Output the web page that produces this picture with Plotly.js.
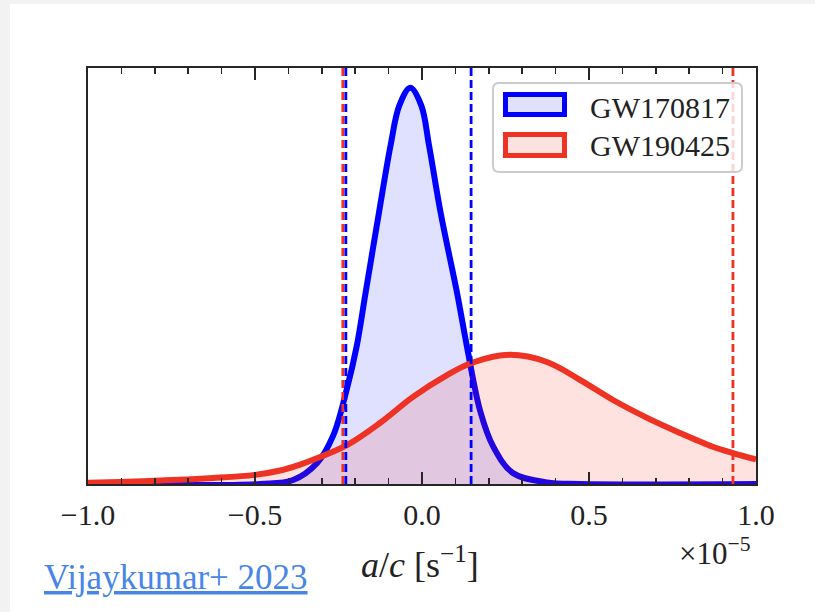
<!DOCTYPE html>
<html>
<head>
<meta charset="utf-8">
<script src="https://cdn.plot.ly/plotly-3.0.1.min.js"></script>
<style>
  html, body { margin: 0; padding: 0; background: #f2f2f2; width: 815px; height: 612px; overflow: hidden; }
  #chart { position: absolute; left: 10px; top: 4px; width: 805px; height: 608px; background: #ffffff; }
</style>
</head>
<body>
<div id="chart"></div>
<script>
// Posterior densities (normalised so GW170817 peak ~ 1), x in units of 1e-5 s^-1
const blueName = "GW170817";
const blueX = [-1.0, -0.485, -0.386, -0.314, -0.266, -0.225, -0.195, -0.169, -0.129, -0.094, -0.068, -0.035, -0.002, 0.021, 0.056, 0.105, 0.135, 0.174, 0.213, 0.272, 0.374, 0.473, 1.0];
const blueY = [0, 0, 0.010, 0.053, 0.122, 0.240, 0.350, 0.482, 0.684, 0.855, 0.955, 1.0, 0.955, 0.855, 0.684, 0.482, 0.345, 0.185, 0.095, 0.028, 0.004, 0, 0];

const redName = "GW190425";
const redX = [-1.0, -0.8, -0.626, -0.5, -0.425, -0.365, -0.326, -0.225, -0.126, -0.027, 0.075, 0.150, 0.263, 0.374, 0.473, 0.572, 0.674, 0.772, 0.871, 0.931, 1.0];
const redY = [0.003, 0.008, 0.015, 0.023, 0.034, 0.049, 0.061, 0.098, 0.154, 0.220, 0.275, 0.306, 0.326, 0.308, 0.263, 0.212, 0.167, 0.129, 0.094, 0.078, 0.062];

// 90% credible interval bounds
const blueBounds = [-0.228, 0.147];
const redBounds = [-0.237, 0.931];

const xTickVals = [-1.0, -0.5, 0.0, 0.5, 1.0];

const BLUE = "#0000ff";
const RED = "rgb(238,50,36)";
const YTOP = 1.05;

const traces = [
  { x: blueX, y: blueY, mode: "lines", fill: "tozeroy", fillcolor: "rgba(0,0,255,0.12)",
    line: { color: BLUE, width: 6, shape: "spline", smoothing: 1.0 }, name: blueName, showlegend: false, hoverinfo: "skip" },
  { x: redX, y: redY, mode: "lines", fill: "tozeroy", fillcolor: "rgba(238,50,36,0.14)",
    line: { color: RED, width: 6, shape: "spline", smoothing: 1.0 }, name: redName, showlegend: false, hoverinfo: "skip" }
];
redBounds.forEach(v => traces.push({ x: [v, v], y: [0, YTOP], mode: "lines", showlegend: false, hoverinfo: "skip",
  line: { color: RED, width: 2.8, dash: "8px,4px" } }));
blueBounds.forEach(v => traces.push({ x: [v, v], y: [0, YTOP], mode: "lines", showlegend: false, hoverinfo: "skip",
  line: { color: BLUE, width: 2.8, dash: "8px,4px" } }));

// legend box (paper coords)
const lx0 = 0.6063, lx1 = 0.9790, ly0 = 0.75, ly1 = 0.9639, rx = 0.009, ry = 0.0144;
const boxPath = `M ${lx0+rx},${ly1} L ${lx1-rx},${ly1} Q ${lx1},${ly1} ${lx1},${ly1-ry} L ${lx1},${ly0+ry} Q ${lx1},${ly0} ${lx1-rx},${ly0} L ${lx0+rx},${ly0} Q ${lx0},${ly0} ${lx0},${ly0+ry} L ${lx0},${ly1-ry} Q ${lx0},${ly1} ${lx0+rx},${ly1} Z`;

const px0 = (505.5-88)/668, px1 = (564.5-88)/668;
const shapes = [
  { type: "path", xref: "paper", yref: "paper", path: boxPath, fillcolor: "rgba(255,255,255,0.8)",
    line: { color: "rgba(204,204,204,1)", width: 2 }, layer: "above" },
  { type: "rect", xref: "paper", yref: "paper", x0: px0, x1: px1, y0: (484-114.5)/416, y1: (484-94.5)/416,
    fillcolor: "rgba(0,0,255,0.12)", line: { color: BLUE, width: 5 }, layer: "above" },
  { type: "rect", xref: "paper", yref: "paper", x0: px0, x1: px1, y0: (484-155.5)/416, y1: (484-134.5)/416,
    fillcolor: "rgba(238,50,36,0.14)", line: { color: RED, width: 5 }, layer: "above" }
];

const serif = "Liberation Serif";
const annotations = [
  { xref: "paper", yref: "paper", x: (588-88)/668, y: (484-107)/416, xanchor: "left", yanchor: "middle",
    text: blueName, showarrow: false, font: { family: serif, size: 30, color: "#222" } },
  { xref: "paper", yref: "paper", x: (588-88)/668, y: (484-145)/416, xanchor: "left", yanchor: "middle",
    text: redName, showarrow: false, font: { family: serif, size: 30, color: "#222" } },
  { xref: "paper", yref: "paper", x: (420-88)/668, y: (484-562)/416, xanchor: "center", yanchor: "middle",
    text: "<i>a</i>/<i>c</i> [s<sup>−1</sup>]", showarrow: false, font: { family: serif, size: 36, color: "#222" } },
  { xref: "paper", yref: "paper", x: (753-88)/668, y: (484-551)/416, xanchor: "right", yanchor: "middle",
    text: "×10<sup>−5</sup>", showarrow: false, font: { family: serif, size: 31, color: "#222" } },
  { xref: "paper", yref: "paper", x: (42-88)/668, y: (484-577)/416, xanchor: "left", yanchor: "middle",
    text: "Vijaykumar+ 2023", showarrow: false,
    font: { family: serif, size: 35, color: "rgb(72,133,230)", lineposition: "under" } }
];

const layout = {
  width: 805, height: 608,
  margin: { l: 78, r: 59, t: 64, b: 128 },
  paper_bgcolor: "#ffffff", plot_bgcolor: "#ffffff",
  showlegend: false,
  xaxis: {
    range: [-1, 1], tickvals: xTickVals, tickformat: ".1f",
    ticks: "inside", ticklen: 12, tickwidth: 2, tickcolor: "#262626",
    minor: { dtick: 0.1, tick0: -1, ticks: "inside", ticklen: 6, tickwidth: 1.5, tickcolor: "#262626", showgrid: false },
    showline: true, linewidth: 2, linecolor: "#262626", mirror: "ticks",
    showgrid: false, zeroline: false, ticklabelstandoff: 3,
    tickfont: { family: serif, size: 30, color: "#222" }
  },
  yaxis: {
    range: [0, YTOP], showticklabels: false, ticks: "",
    showline: true, linewidth: 2, linecolor: "#262626", mirror: true,
    showgrid: false, zeroline: false
  },
  shapes: shapes,
  annotations: annotations
};

Plotly.newPlot("chart", traces, layout, { displayModeBar: false, staticPlot: true });
</script>
</body>
</html>
